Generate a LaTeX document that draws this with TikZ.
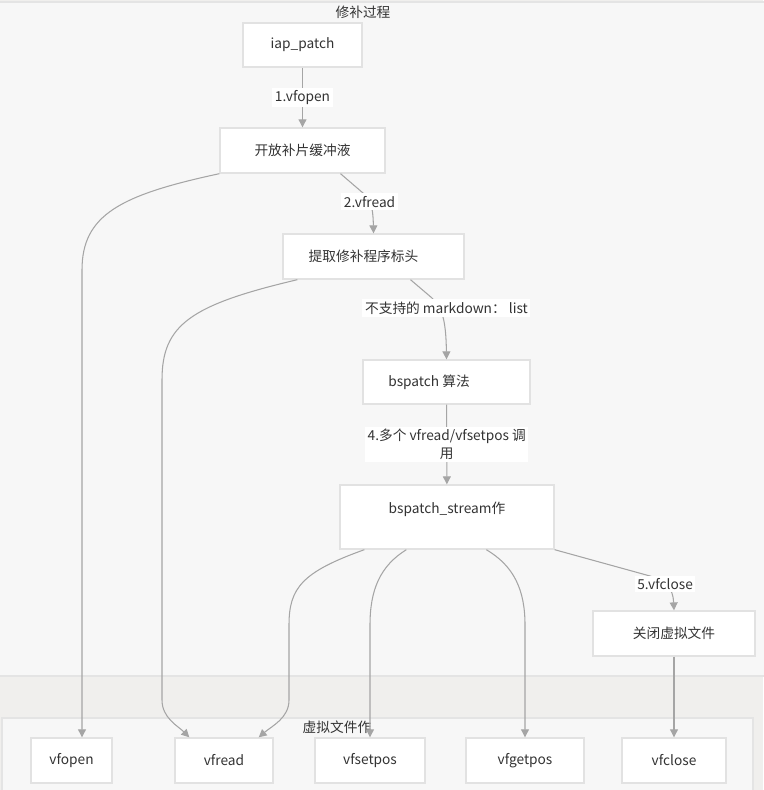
\documentclass[tikz,border=0pt]{standalone}
\usepackage{fontspec}
\setmainfont{Noto Sans CJK SC}
\usepackage{xcolor}
\usepackage{tikz}
\usetikzlibrary{positioning,arrows.meta,calc}
\definecolor{outerbg}{RGB}{240,239,237}
\definecolor{panel}{RGB}{247,247,247}
\definecolor{linegray}{RGB}{228,228,228}
\definecolor{boxline}{RGB}{226,226,226}
\definecolor{edgegray}{RGB}{165,165,165}
\definecolor{graytext}{RGB}{51,51,51}
\tikzset{
    box/.style={draw=boxline, fill=white, line width=0.8pt, align=center, font=\fontsize{7.8pt}{10pt}\selectfont, text=graytext, inner sep=0pt},
    lbl/.style={fill=white, align=center, font=\fontsize{7.8pt}{10pt}\selectfont, text=graytext, inner sep=1.5pt},
    title/.style={font=\fontsize{7.8pt}{10pt}\selectfont, text=graytext},
    edge/.style={-{Triangle[length=4.5pt,width=4.5pt]}, line width=0.6pt, draw=edgegray},
    panel/.style={draw=linegray, fill=panel, line width=0.8pt}
}

\begin{document}
\begin{tikzpicture}[x=0.02cm,y=-0.02cm]
\useasboundingbox (0,0) rectangle (763,790);
\fill[outerbg] (0,0) rectangle (763,790);
\draw[panel] (-5,2) rectangle (768,676);
\draw[panel] (2,718) rectangle (753,800);
\node[title] (t1) at (363,12) {修补过程};
\node[title] (t2) at (337,727) {虚拟文件作};
\node[box, minimum width=2.38cm, minimum height=0.88cm] (iap) at (302.5,45) {iap\_patch};
\node[box, minimum width=3.3cm, minimum height=0.9cm] (kf) at (302.5,150.5) {开放补片缓冲液};
\node[box, minimum width=3.62cm, minimum height=0.9cm] (tq) at (373.5,256.5) {提取修补程序标头\hspace*{0.4cm}};
\node[box, minimum width=3.34cm, minimum height=0.88cm] (bs) at (446.5,382) {bspatch 算法\hspace*{0.7cm}};
\node[box, minimum width=4.28cm, minimum height=1.28cm] (bss) at (447,517) {bspatch\_stream作\\\mbox{}};
\node[box, minimum width=3.24cm, minimum height=0.9cm] (cl) at (674,633.5) {关闭虚拟文件};
\node[box, minimum width=1.62cm, minimum height=0.9cm] (vfopen) at (71.5,760.5) {vfopen};
\node[box, minimum width=1.96cm, minimum height=0.9cm] (vfread) at (224,760.5) {vfread};
\node[box, minimum width=2.2cm, minimum height=0.9cm] (vfsetpos) at (370,760.5) {vfsetpos};
\node[box, minimum width=2.36cm, minimum height=0.9cm] (vfgetpos) at (525,760.5) {vfgetpos};
\node[box, minimum width=2.08cm, minimum height=0.9cm] (vfclose) at (674,760.5) {vfclose};
\draw[edge] (iap) -- (kf) node[lbl, pos=0.5] {1.vfopen};
\draw[edge] ($(kf.south)+(38,0)$) -- (363,193) .. controls (370,199) and (373,205) .. (tq.north) node[lbl, pos=0.4] {2.vfread};
\draw[edge] ($(tq.south)+(37,0)$) -- (432,298) .. controls (442,307) and (446,320) .. (bs.north) node[lbl, pos=0.3, xshift=0.14cm] {不支持的 markdown： list};
\draw[edge] (bs) -- (bss) node[lbl, pos=0.5] {4.多个 vfread/vfsetpos 调\\用};
\draw[edge] (bss.south east) -- (650,576) .. controls (666,581) and (673,588) .. (cl.north) node[lbl, pos=0.4] {5.vfclose};
\draw[edge] (cl) -- (vfclose);
\draw[edge] (kf.south west) .. controls (120,195) and (82,215) .. (82,270) -- ($(vfopen.north)+(10.5,0)$);
\draw[edge] ($(tq.south west)+(15,0)$) .. controls (190,305) and (162,325) .. (162,380) -- (162,700) .. controls (162,718) and (178,726) .. ($(vfread.north west)+(15,0)$);
\draw[edge] ($(bss.south west)+(25,0)$) .. controls (302,572) and (289,588) .. (289,625) -- (289,700) .. controls (289,718) and (272,726) .. ($(vfread.north east)+(-15,0)$);
\draw[edge] ($(bss.south west)+(67,0)$) .. controls (380,566) and (370,590) .. (370,625) -- (vfsetpos.north);
\draw[edge] ($(bss.south west)+(147,0)$) .. controls (514,566) and (525,590) .. (525,625) -- (vfgetpos.north);
\end{tikzpicture}
\end{document}
